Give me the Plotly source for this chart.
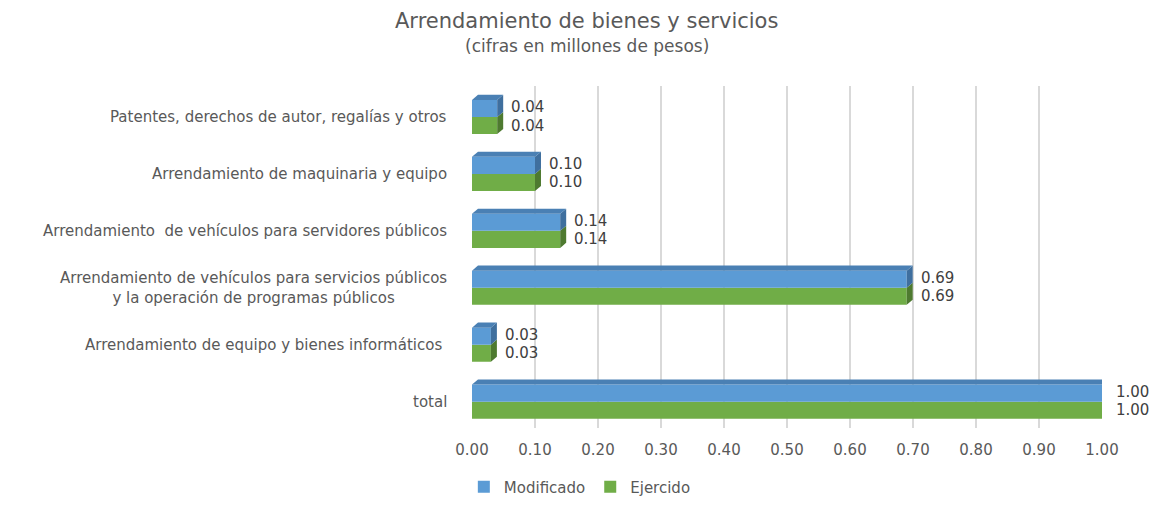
import plotly.graph_objects as go

categories = [
    "total",
    "Arrendamiento de equipo y bienes informáticos ",
    "Arrendamiento de vehículos para servicios públicos<br>y la operación de programas públicos",
    "Arrendamiento  de vehículos para servidores públicos",
    "Arrendamiento de maquinaria y equipo",
    "Patentes, derechos de autor, regalías y otros",
]
modificado = [1.00, 0.03, 0.69, 0.14, 0.10, 0.04]
ejercido = [1.00, 0.03, 0.69, 0.14, 0.10, 0.04]
x_ticks = [0.0, 0.1, 0.2, 0.3, 0.4, 0.5, 0.6, 0.7, 0.8, 0.9, 1.0]
title_text = "Arrendamiento de bienes y servicios"
subtitle_text = "(cifras en millones de pesos)"

BLUE, BLUE_D, BLUE_T = "#5B9BD5", "#3F6F9E", "#4A80B4"
GREEN, GREEN_D = "#70AD47", "#4E7A30"
TXT = "#595959"
FONT = "DejaVu Sans"

pos = list(range(len(categories)))
bargap = 0.4
bh = (1 - bargap) / 2
dx, dy = 0.0095, 0.09

fig = go.Figure()
fig.add_trace(go.Bar(y=pos, x=ejercido, orientation="h", name="Ejercido",
                     marker=dict(color=GREEN, line=dict(width=0)), legendrank=2))
fig.add_trace(go.Bar(y=pos, x=modificado, orientation="h", name="Modificado",
                     marker=dict(color=BLUE, line=dict(width=0)), legendrank=1))

shapes = []
annotations = []
for i, (m, e) in enumerate(zip(modificado, ejercido)):
    gb, gt = i - bh, i
    bb, bt = i, i + bh
    for v, y0, y1, col in [(e, gb, gt, GREEN_D), (m, bb, bt, BLUE_D)]:
        shapes.append(dict(type="path", xref="x", yref="y",
                           path=f"M {v},{y0} L {v+dx},{y0+dy} L {v+dx},{y1+dy} L {v},{y1} Z",
                           fillcolor=col, line=dict(width=0), layer="above"))
    shapes.append(dict(type="path", xref="x", yref="y",
                       path=f"M 0,{bt} L {dx},{bt+dy} L {m+dx},{bt+dy} L {m},{bt} Z",
                       fillcolor=BLUE_T, line=dict(width=0), layer="above"))
    annotations.append(dict(x=m, y=i + bh / 2, xref="x", yref="y", text=f"{m:.2f}",
                            showarrow=False, xanchor="left", xshift=12, yshift=1,
                            font=dict(family=FONT, size=15, color="#404040")))
    annotations.append(dict(x=e, y=i - bh / 2, xref="x", yref="y", text=f"{e:.2f}",
                            showarrow=False, xanchor="left", xshift=12, yshift=0,
                            font=dict(family=FONT, size=15, color="#404040")))
    annotations.append(dict(x=0, y=i, xref="x", yref="y", text=categories[i],
                            showarrow=False, xanchor="right", xshift=-23, align="center",
                            font=dict(family=FONT, size=15, color=TXT)))

annotations.append(dict(x=0.1825, y=1.19, xref="paper", yref="paper", text=title_text,
                        showarrow=False, xanchor="center", yanchor="middle",
                        font=dict(family=FONT, size=21, color=TXT)))
annotations.append(dict(x=0.1825, y=1.118, xref="paper", yref="paper", text=subtitle_text,
                        showarrow=False, xanchor="center", yanchor="middle",
                        font=dict(family=FONT, size=17, color=TXT)))

fig.update_layout(
    width=1167, height=499,
    margin=dict(l=464, r=73, t=78, b=75),
    paper_bgcolor="white", plot_bgcolor="white",
    barmode="group", bargap=bargap, bargroupgap=0,
    font=dict(family=FONT, size=15, color=TXT),
    xaxis=dict(range=[0, 1.0], tickvals=x_ticks, tickformat=".2f", showgrid=True,
               gridcolor="#D9D9D9", gridwidth=1.5, zeroline=False, showline=False,
               ticks="", ticklabelstandoff=11, tickfont=dict(family=FONT, size=15, color=TXT)),
    yaxis=dict(range=[-0.455, 5.545], showticklabels=False, showgrid=False, zeroline=False,
               showline=False, ticks=""),
    legend=dict(orientation="h", xref="container", x=0.49, xanchor="center",
                yref="container", y=0.04, yanchor="middle",
                font=dict(family=FONT, size=15, color=TXT)),
    shapes=shapes, annotations=annotations,
)
fig.write_html("out.html")
